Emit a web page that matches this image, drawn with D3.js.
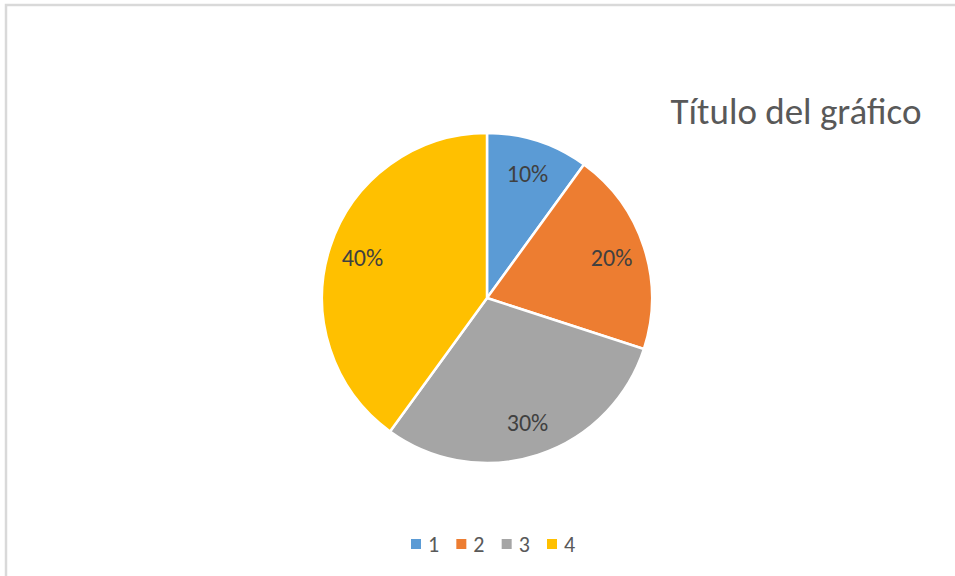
<!DOCTYPE html>
<html>
<head>
<meta charset="utf-8">
<script src="https://cdn.jsdelivr.net/npm/d3@7"></script>
<style>
  body { margin: 0; background: #fff; }
  text { font-family: Carlito, "Open Sans", "Liberation Sans", sans-serif; }
</style>
</head>
<body>
<svg id="chart" width="955" height="576"></svg>
<script>
const categories = ["1", "2", "3", "4"];
const values = [10, 20, 30, 40];
const colors = ["#5B9BD5", "#ED7D31", "#A5A5A5", "#FFC000"];
const title = "Título del gráfico";

const svg = d3.select("svg#chart");
const width = +svg.attr("width");
const height = +svg.attr("height");

// chart frame
svg.append("rect")
    .attr("x", 6).attr("y", 5)
    .attr("width", width + 10).attr("height", height + 10)
    .attr("fill", "#fff")
    .attr("stroke", "#d9d9d9")
    .attr("stroke-width", 2.5);

const cx = 487, cy = 298, radius = 165;

const pie = d3.pie().sort(null).value(d => d.value);
const arc = d3.arc().innerRadius(0).outerRadius(radius);
const labelArc = d3.arc().innerRadius(131).outerRadius(131);

const data = categories.map((c, i) => ({ cat: c, value: values[i], color: colors[i] }));
const total = d3.sum(values);

const slices = svg.append("g")
    .attr("transform", `translate(${cx},${cy})`);

slices.selectAll("path")
    .data(pie(data))
    .join("path")
    .attr("d", arc)
    .attr("fill", d => d.data.color)
    .attr("stroke", "#fff")
    .attr("stroke-width", 2.5);

slices.selectAll("text")
    .data(pie(data))
    .join("text")
    .attr("transform", d => `translate(${labelArc.centroid(d)})`)
    .attr("text-anchor", "middle")
    .attr("dy", "0.35em")
    .attr("font-size", 24)
    .attr("fill", "#404040")
    .text(d => d3.format(".0%")(d.data.value / total));

// title
svg.append("text")
    .attr("x", 796).attr("y", 111)
    .attr("text-anchor", "middle")
    .attr("dy", "0.35em")
    .attr("font-size", 37)
    .attr("fill", "#595959")
    .text(title);

// legend
const legendX = d3.scalePoint().domain(categories).range([411, 547]);
const legend = svg.append("g").selectAll("g")
    .data(data)
    .join("g")
    .attr("transform", d => `translate(${legendX(d.cat)},544)`);
legend.append("rect")
    .attr("x", 0).attr("y", -5)
    .attr("width", 10).attr("height", 10)
    .attr("fill", d => d.color);
legend.append("text")
    .attr("x", 17).attr("y", 0)
    .attr("dy", "0.35em")
    .attr("font-size", 22)
    .attr("fill", "#595959")
    .text(d => d.cat);
</script>
</body>
</html>
